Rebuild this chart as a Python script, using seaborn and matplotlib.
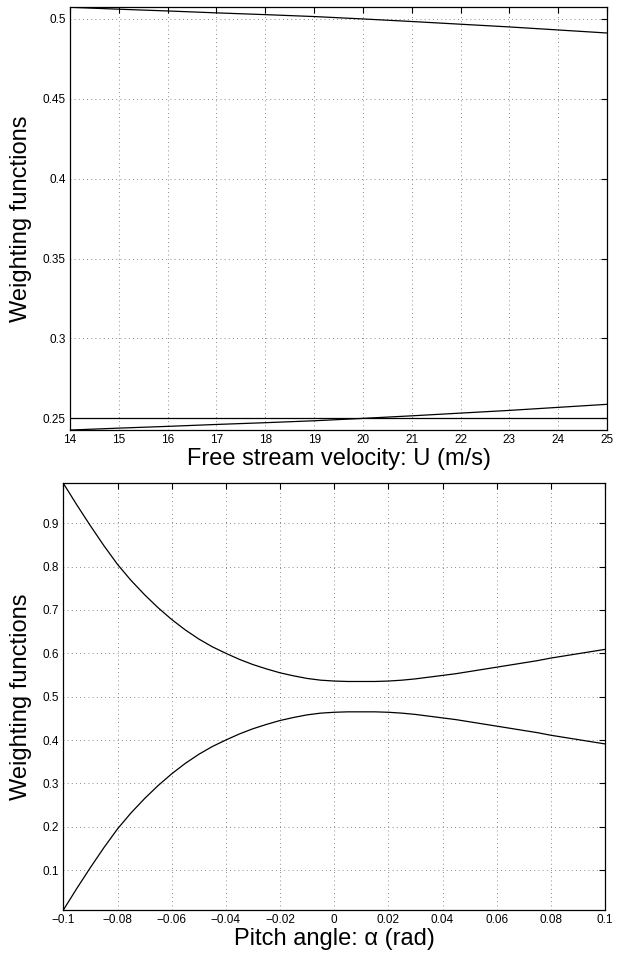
import matplotlib
matplotlib.use('Agg')
import matplotlib.pyplot as plt
import matplotlib.ticker as mticker
import seaborn as sns
import pandas as pd
import numpy as np

####### Data #######
# Top panel: weighting functions vs free stream velocity
U = [14, 15, 16, 17, 18, 19, 20, 21, 22, 23, 24, 25]
w_upper_U = [0.5073, 0.5061, 0.5050, 0.5038, 0.5027, 0.5015, 0.5000, 0.4984, 0.4967, 0.4950, 0.4931, 0.4912]
w_lower_U = [0.2427, 0.2439, 0.2450, 0.2462, 0.2473, 0.2485, 0.2500, 0.2516, 0.2533, 0.2550, 0.2569, 0.2588]
w_const_U = [0.25] * len(U)

# Bottom panel: weighting functions vs pitch angle (sampled every 0.005 rad)
alpha = np.linspace(-0.1, 0.1, 41)
w_upper_a = [0.992, 0.942, 0.894, 0.848, 0.805, 0.768, 0.735, 0.705, 0.678, 0.654,
             0.633, 0.615, 0.600, 0.586, 0.574, 0.564, 0.555, 0.548, 0.542, 0.538,
             0.536, 0.535, 0.535, 0.535, 0.536, 0.538, 0.541, 0.545, 0.549, 0.553,
             0.558, 0.563, 0.568, 0.573, 0.578, 0.583, 0.589, 0.594, 0.599, 0.604, 0.609]
w_lower_a = [0.008, 0.058, 0.106, 0.152, 0.195, 0.232, 0.265, 0.295, 0.322, 0.346,
             0.367, 0.385, 0.400, 0.414, 0.426, 0.436, 0.445, 0.452, 0.458, 0.462,
             0.464, 0.465, 0.465, 0.465, 0.464, 0.462, 0.459, 0.455, 0.451, 0.447,
             0.442, 0.437, 0.432, 0.427, 0.422, 0.417, 0.411, 0.406, 0.401, 0.396, 0.391]

U_ticks = list(range(14, 26))
U_yticks = [0.25, 0.3, 0.35, 0.4, 0.45, 0.5]
a_ticks = [-0.1, -0.08, -0.06, -0.04, -0.02, 0, 0.02, 0.04, 0.06, 0.08, 0.1]
a_yticks = [0.1, 0.2, 0.3, 0.4, 0.5, 0.6, 0.7, 0.8, 0.9]

df_U = pd.DataFrame({'U': U, 'w1': w_upper_U, 'w2': w_lower_U, 'w3': w_const_U})
df_a = pd.DataFrame({'alpha': alpha, 'w1': w_upper_a, 'w2': w_lower_a})

####### Style #######
sns.set_style('white')
plt.rcParams['font.family'] = ['Liberation Sans', 'DejaVu Sans']
plt.rcParams['text.color'] = 'black'
plt.rcParams['axes.labelcolor'] = 'black'

fig = plt.figure(figsize=(6.24, 9.58), dpi=100)
ax1 = fig.add_axes([0.1122, 0.5511, 0.9728 - 0.1122, 0.9924 - 0.5511])
ax2 = fig.add_axes([0.1015, 0.0501, 0.9696 - 0.1015, 0.4955 - 0.0501])

# matlab style labels: %g with a real minus sign
fmt = mticker.FuncFormatter(lambda v, pos: ('%g' % v).replace('-', '\u2212'))


def style_axis(ax):
    ax.grid(True, linestyle=(0, (1, 4)), color='0.4', linewidth=0.6)
    ax.tick_params(direction='in', top=True, right=True, length=4, width=0.8,
                   labelsize=8.5, colors='black', pad=3)
    for s in ax.spines.values():
        s.set_visible(True)
        s.set_color('black')
        s.set_linewidth(0.9)
    ax.yaxis.set_major_formatter(fmt)
    ax.xaxis.set_major_formatter(fmt)


####### Top panel #######
for col in ['w1', 'w2', 'w3']:
    sns.lineplot(data=df_U, x='U', y=col, ax=ax1, color='black', linewidth=0.9)
ax1.set_xlim(min(U), max(U))
ax1.set_ylim(min(w_lower_U), max(w_upper_U))
ax1.set_xticks(U_ticks)
ax1.set_yticks(U_yticks)
style_axis(ax1)
ax1.set_xlabel('Free stream velocity: U (m/s)', fontsize=17, labelpad=1)
ax1.set_ylabel('Weighting functions', fontsize=17, labelpad=8)

####### Bottom panel #######
for col in ['w1', 'w2']:
    sns.lineplot(data=df_a, x='alpha', y=col, ax=ax2, color='black', linewidth=0.9)
ax2.set_xlim(-0.1, 0.1)
ax2.set_ylim(min(w_lower_a), max(w_upper_a))
ax2.set_xticks(a_ticks)
ax2.set_yticks(a_yticks)
style_axis(ax2)
ax2.set_xlabel('Pitch angle: α (rad)', fontsize=17, labelpad=1)
ax2.set_ylabel('Weighting functions', fontsize=17, labelpad=8)

fig.savefig('out.png', dpi=100)
